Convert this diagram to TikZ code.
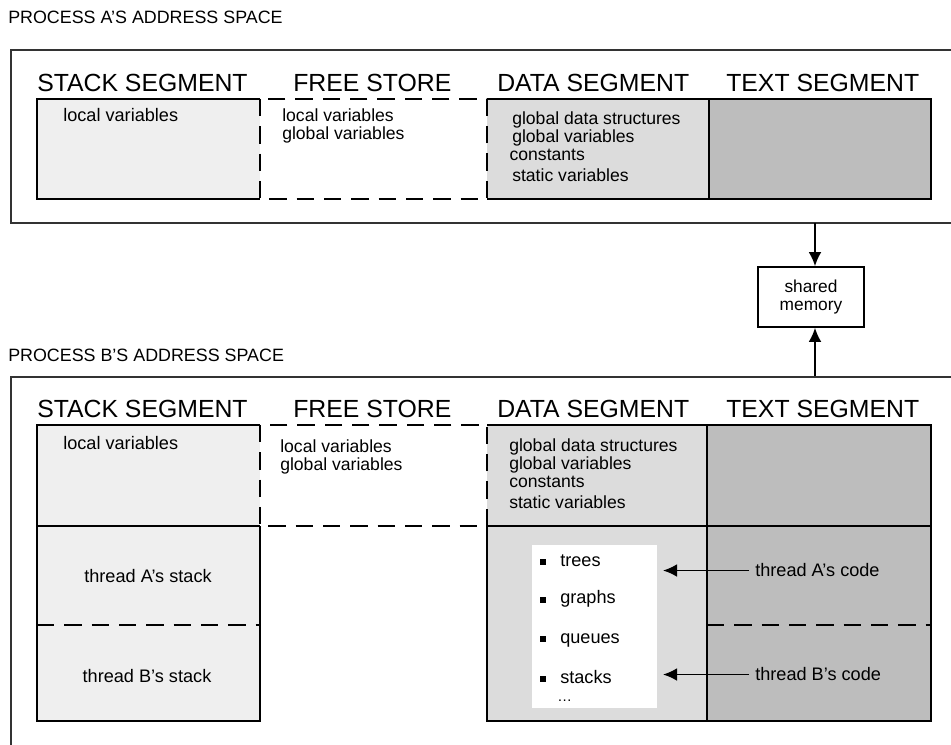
\documentclass[tikz,border=0pt]{standalone}
\usepackage{fontspec}
\setmainfont{Liberation Sans}
\usetikzlibrary{arrows.meta}

\definecolor{stackfill}{HTML}{EFEFEF}
\definecolor{datafill}{HTML}{DCDCDC}
\definecolor{textfill}{HTML}{BDBDBD}
\definecolor{frameline}{HTML}{333333}

\tikzset{
  frame/.style={draw=frameline, line width=1.3pt},
  seg/.style={draw=black, line width=1.2pt},
  segdash/.style={draw=black, line width=1.2pt, dash pattern=on 13pt off 7.5pt},
  ttl/.style={anchor=base west, inner sep=0pt, font=\fontsize{13.4}{14}\selectfont},
  hdr/.style={anchor=base west, inner sep=0pt, font=\fontsize{18.6}{19}\selectfont},
  lbl/.style={anchor=base west, inner sep=0pt, font=\fontsize{13.6}{14}\selectfont},
  lines/.style={anchor=north west, inner sep=0pt, align=left,
    font=\fontsize{13.2}{13.6}\selectfont},
  clbl/.style={anchor=base, inner sep=0pt, font=\fontsize{13.6}{14}\selectfont},
  arr/.style={draw=black, line width=1.2pt, -{Latex[length=10.5pt,width=9.5pt]}},
  bullet/.style={fill=black},
  membox/.style={draw=black, line width=1.2pt, fill=white, minimum width=79.5pt,
    minimum height=45pt, align=center, inner sep=0pt,
    font=\fontsize{13}{13.8}\selectfont},
}

\begin{document}
\begin{tikzpicture}[x=0.75pt,y=-0.75pt]
\useasboundingbox (0,0) rectangle (951,745);

% ---------------- process A ----------------
\node[ttl] (titleA) at (8,24) {PROCESS A'S ADDRESS SPACE};
\draw[frame] (960,50) -- (11,50) -- (11,223) -- (960,223);

\node[hdr] (hsA) at (37,92) {STACK SEGMENT};
\node[hdr] (hfA) at (293,92) {FREE STORE};
\node[hdr] (hdA) at (497,92) {DATA SEGMENT};
\node[hdr] (htA) at (726,92) {TEXT SEGMENT};

% stack segment
\fill[stackfill] (37,99) rectangle (260,199);
\draw[seg] (260,99) -- (37,99) -- (37,199) -- (260,199);
% data segment
\fill[datafill] (487,99) rectangle (709,199);
\draw[seg] (487,99) -- (709,99);
\draw[seg] (487,199) -- (709,199);
% text segment
\fill[textfill] (709,99) rectangle (931,199);
\draw[seg] (709,99) rectangle (931,199);
% free store
\draw[segdash] (260,99) rectangle (487,199);

\node[lbl] (sA1) at (63,122) {local variables};
\node[lines] (fA) at (282,108) {local variables\\global variables};
\node[lines] (dA) at (512,111)
  {global data structures\\global variables\\\hspace*{-2pt}constants\\[2pt]static variables};

% ---------------- shared memory ----------------
\node[membox] (shm) at (811,297) {shared\\memory};
\coordinate (linkA) at (815,223);
\coordinate (linkB) at (815,377);
\draw[arr] (linkA) -- (linkA |- shm.north);
\draw[arr] (linkB) -- (linkB |- shm.south);

% ---------------- process B ----------------
\node[ttl] (titleB) at (8,362) {PROCESS B'S ADDRESS SPACE};
\draw[frame] (960,377) -- (11,377) -- (11,760);

\node[hdr] (hsB) at (37,418) {STACK SEGMENT};
\node[hdr] (hfB) at (293,418) {FREE STORE};
\node[hdr] (hdB) at (497,418) {DATA SEGMENT};
\node[hdr] (htB) at (726,418) {TEXT SEGMENT};

% stack segment
\fill[stackfill] (37,425) rectangle (260,721);
\draw[seg] (260,425) -- (37,425) -- (37,721) -- (260,721) -- (260,526);
\draw[seg] (37,526) -- (260,526);
\draw[segdash] (37,625) -- (260,625);
% data segment
\fill[datafill] (487,425) rectangle (707,721);
\draw[seg] (487,425) -- (707,425);
\draw[seg] (487,526) -- (487,721) -- (707,721);
\draw[seg] (487,526) -- (707,526);
% text segment
\fill[textfill] (707,425) rectangle (931,721);
\draw[seg] (707,425) rectangle (931,721);
\draw[seg] (707,526) -- (931,526);
\draw[segdash] (707,625) -- (931,625);
% free store
\draw[segdash] (260,425) rectangle (487,526);

\node[lbl] (sB1) at (63,450) {local variables};
\node[lines] (fB) at (280,439) {local variables\\global variables};
\node[lines] (dB) at (509,438)
  {global data structures\\global variables\\constants\\[2pt]static variables};

\node[clbl] (thA) at (148,583) {thread A's stack};
\node[clbl] (thB) at (147,682) {thread B's stack};

% data structures list
\fill[white] (532,545) rectangle (657,708);
\foreach \yy/\name/\txt in {566/trees/trees, 604/graphs/graphs, 643/queues/queues, 683/stacks/stacks}{
  \fill[bullet] (540,\yy-7) rectangle (546,\yy-1);
  \node[lbl] (\name) at (560,\yy) {\txt};
}
\node[lbl] (more) at (557,701) {\fontsize{11}{11}\selectfont\dots};

% thread code pointers
\node[lbl] (codeA) at (755,577) {thread A's code};
\node[lbl] (codeB) at (755,681) {thread B's code};
\coordinate (tipA) at (663,573);
\coordinate (tipB) at (663,677);
\draw[arr] ([xshift=-4.5pt]codeA.west) -- (tipA |- codeA.west);
\draw[arr] ([xshift=-4.5pt]codeB.west) -- (tipB |- codeB.west);
\end{tikzpicture}
\end{document}
